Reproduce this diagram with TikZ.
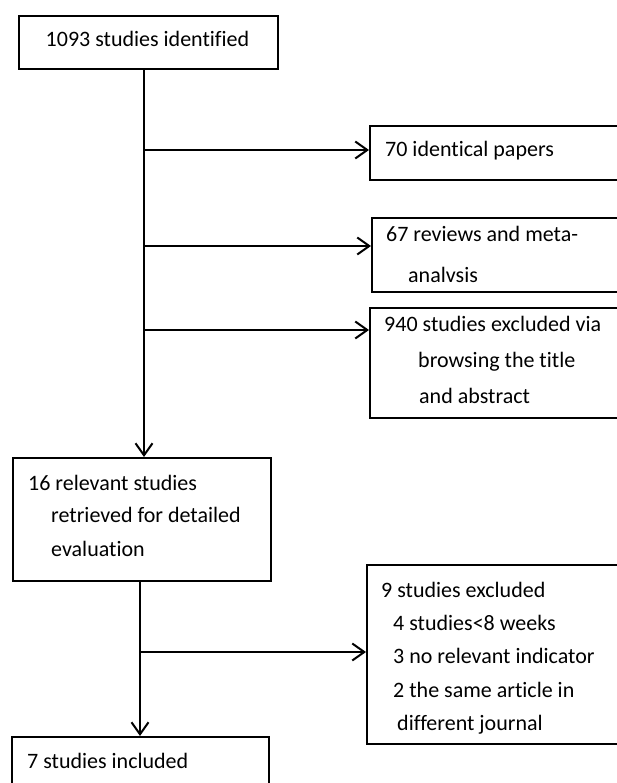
\documentclass[tikz,border=0pt]{standalone}
\usepackage{fontspec}
\setmainfont{Carlito}[Ligatures=NoCommon]
\usetikzlibrary{arrows.meta}
\begin{document}
\begin{tikzpicture}[x=1pt,y=-1pt,
  box/.style={draw=black, line width=1.7pt, inner sep=0pt, anchor=north west, fill=none},
  txt/.style={anchor=base west, inner sep=0pt, font=\fontsize{22}{26}\selectfont},
  arr/.style={draw=black, line width=2pt, -{Straight Barb[length=12pt,width=17pt,line width=2pt]}},
  ln/.style={draw=black, line width=2pt}]
\useasboundingbox (0,0) rectangle (617,783);
\clip (0,0) rectangle (617,783);
% boxes
\node[box, minimum width=259pt, minimum height=53pt] (b1) at (18,15) {};
\node[box, minimum width=270pt, minimum height=54pt] (b70) at (369,125) {};
\node[box, minimum width=270pt, minimum height=74pt] (b67) at (371,217) {};
\node[box, minimum width=270pt, minimum height=110pt] (b940) at (369,307) {};
\node[box, minimum width=258pt, minimum height=123pt] (b16) at (12,457) {};
\node[box, minimum width=270pt, minimum height=179pt] (b9) at (366,564) {};
\node[box, minimum width=257pt, minimum height=70pt] (b7) at (11,736) {};
% texts
\node[txt, anchor=base] (t1) at (147.5,47) {1093 studies identified};
\node[txt] (t70) at (385,157) {70 identical papers};
\node[txt] (t67a) at (386,242) {67 reviews and meta-};
\node[txt] (t67b) at (408,283) {analvsis};
\node[txt] (t940a) at (384,331) {940 studies excluded via};
\node[txt] (t940b) at (418,367) {browsing the title};
\node[txt] (t940c) at (419,403) {and abstract};
\node[txt] (t16a) at (28,490) {16 relevant studies};
\node[txt] (t16b) at (51,522) {retrieved for detailed};
\node[txt] (t16c) at (51,556) {evaluation};
\node[txt] (t9a) at (381,597) {9 studies excluded};
\node[txt] (t9b) at (393,630) {4 studies<8 weeks};
\node[txt] (t9c) at (393,663) {3 no relevant indicator};
\node[txt] (t9d) at (393,697) {2 the same article in};
\node[txt] (t9e) at (397,730) {different journal};
\node[txt] (t7) at (27,768) {7 studies included};
% trunk coordinates
\coordinate (k1) at (144,0);
\coordinate (k2) at (140,0);
\coordinate (j1) at (144,150);
\coordinate (j2) at (144,246);
\coordinate (j3) at (144,330);
\coordinate (j4) at (140,652);
% connectors
\draw[arr] (k1 |- b1.south) -- (k1 |- b16.north);
\draw[arr] (j1) -- (b70.west |- j1);
\draw[arr] (j2) -- (b67.west |- j2);
\draw[arr] (j3) -- (b940.west |- j3);
\draw[arr] (k2 |- b16.south) -- (k2 |- b7.north);
\draw[arr] (j4) -- (b9.west |- j4);
\end{tikzpicture}
\end{document}
